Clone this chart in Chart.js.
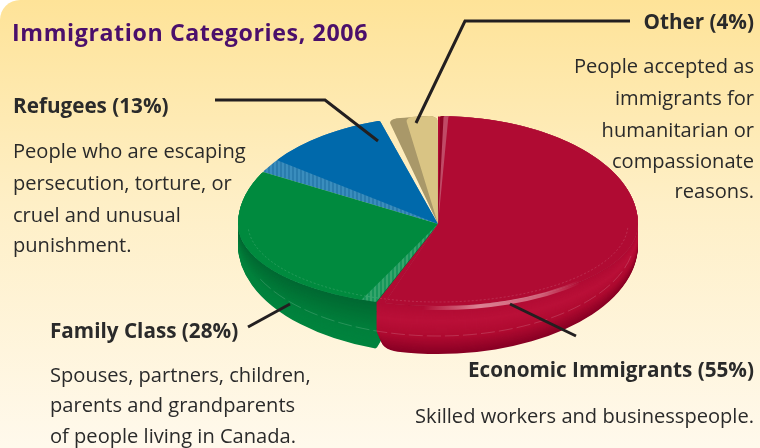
<!DOCTYPE html>
<html>
<head>
<meta charset="utf-8">
<script src="https://cdn.jsdelivr.net/npm/chart.js@4"></script>
<style>
html,body{margin:0;padding:0;background:#fff}
canvas{display:block}
</style>
</head>
<body>
<canvas id="immigration-chart" width="760" height="448"></canvas>
<script>
// Immigration Categories - pie
var chartTitle = "Immigration Categories, 2006";
var categories = ["Economic Immigrants", "Family Class", "Refugees", "Other"];
var shares = [55, 28, 13, 4];
var notesEconomic = ["Skilled workers and businesspeople."];
var notesFamily = ["Spouses, partners, children,", "parents and grandparents", "of people living in Canada."];
var notesRefugees = ["People who are escaping", "persecution, torture, or", "cruel and unusual", "punishment."];
var notesOther = ["People accepted as", "immigrants for", "humanitarian or", "compassionate", "reasons."];

var faceColors = ["#b00b33", "#008a3e", "#0069ab", "#d9c484"];

function stripes(a, b) {
  var c = document.createElement("canvas");
  c.width = 4; c.height = 4;
  var x = c.getContext("2d");
  x.fillStyle = a; x.fillRect(0, 0, 4, 4);
  x.fillStyle = b; x.fillRect(0, 0, 2, 4);
  return x.createPattern(c, "repeat");
}

function lerpColor(stops, t) {
  var n = stops.length - 1, i = Math.min(Math.floor(t * n), n - 1), f = t * n - i;
  var a = stops[i], b = stops[i + 1], out = [];
  for (var k = 0; k < 3; k++) out.push(Math.round(a[k] + (b[k] - a[k]) * f));
  return "rgb(" + out.join(",") + ")";
}
var rims = [
  [[176,11,51],[186,16,56],[174,10,48],[136,0,36]],
  [[0,104,50],[0,116,54],[0,128,60],[0,132,62]]
];

// paint one arc through the element's own draw, flattened to a tilted disc
function paint(chart, arc, color, trimStart, trimEnd, drop, grow, radius) {
  var ctx = chart.ctx, cx = arc.x, cy = arc.y;
  var o = arc.options, s = arc.startAngle, e = arc.endAngle;
  arc.options = Object.assign({}, o, {backgroundColor: color, borderWidth: 0});
  if (radius !== undefined) arc.options.borderRadius = radius;
  arc.startAngle = s + trimStart * Math.PI / 180;
  arc.endAngle = e - trimEnd * Math.PI / 180;
  [[0.54, -1, cy + 0.5], [0.41 + grow, cy, 448]].forEach(function (h) {
    ctx.save();
    ctx.translate(0, drop);
    ctx.beginPath();
    ctx.rect(0, h[1] < 0 ? 0 : h[1], 760, h[1] < 0 ? h[2] : h[2] - h[1]);
    ctx.clip();
    ctx.translate(cx, cy);
    ctx.scale(1, h[0]);
    ctx.translate(-cx, -cy);
    arc.draw(ctx);
    ctx.restore();
  });
  arc.options = o; arc.startAngle = s; arc.endAngle = e;
}

var tiltedPie = {
  id: "tiltedPie",
  beforeDraw: function (chart) {
    var ctx = chart.ctx;
    var g = ctx.createLinearGradient(0, 0, 0, 448);
    g.addColorStop(0, "#fee398");
    g.addColorStop(0.45, "#feefc6");
    g.addColorStop(1, "#fff9ec");
    ctx.save();
    ctx.fillStyle = g;
    ctx.beginPath();
    ctx.roundRect(0, 0, 760, 448, [20, 0, 0, 0]);
    ctx.fill();
    ctx.restore();
  },
  beforeDatasetDraw: function (chart) {
    var arcs = chart.getDatasetMeta(0).data;
    var steps = 46, i, t;
    // rim of the two front slices, back to front
    for (i = steps; i >= 1; i--) {
      t = i / steps;
      paint(chart, arcs[1], lerpColor(rims[1], t), 0, 0, t * 21, t * 0.135);
      paint(chart, arcs[0], lerpColor(rims[0], t), 0, 0, t * 21, t * 0.135,
        {outerStart: 0, outerEnd: t > 0.6 ? (t - 0.6) * 50 : 0, innerStart: 0, innerEnd: 0});
    }
    // cut faces, then the top faces
    paint(chart, arcs[3], "#a99869", 0, 0.2, 0, 0);
    paint(chart, arcs[3], faceColors[3], 5, 0.2, 0, 0);
    paint(chart, arcs[2], stripes("#3a8dbd", "#2a7cae"), 0, 2.5, 0, 0);
    paint(chart, arcs[2], faceColors[2], 7.5, 2.5, 0, 0);
    paint(chart, arcs[1], stripes("#35a56b", "#17965a"), 0, 0, 0, 0);
    paint(chart, arcs[1], faceColors[1], 4.5, 0, 0, 0);
    paint(chart, arcs[0], "#8f0424", 0.6, 2.5, 0, 0);
    paint(chart, arcs[0], "#c04a66", 1.6, 2.5, 0, 0);
    paint(chart, arcs[0], faceColors[0], 3, 2.5, 0, 0);

    var ctx = chart.ctx, a = arcs[0], r = a.outerRadius;
    ctx.save();
    // shine on the red rim
    var g = ctx.createLinearGradient(423, 0, 580, 0);
    g.addColorStop(0, "rgba(255,225,225,0)");
    g.addColorStop(0.35, "rgba(255,225,225,0.55)");
    g.addColorStop(0.75, "rgba(255,225,225,0.4)");
    g.addColorStop(1, "rgba(255,225,225,0)");
    ctx.strokeStyle = g;
    ctx.lineWidth = 4;
    ctx.beginPath();
    ctx.ellipse(a.x, a.y, r * 0.98, r * 0.42, 0, 0.76, 1.65);
    ctx.stroke();
    // faint seams on face and rim
    ctx.lineWidth = 0.7;
    ctx.strokeStyle = "rgba(255,255,255,0.2)";
    ctx.setLineDash([2, 2]);
    ctx.beginPath();
    ctx.ellipse(a.x, a.y, r * 0.95, r * 0.39, 0, 0.05, Math.PI - 0.05);
    ctx.stroke();
    ctx.strokeStyle = "rgba(255,255,255,0.22)";
    ctx.setLineDash([14, 4]);
    ctx.beginPath();
    ctx.ellipse(a.x, a.y + 12, r * 0.985, r * 0.5, 0, 0.2, 2.7);
    ctx.stroke();
    ctx.restore();
    return false;
  },
  afterDraw: function (chart) {
    var ctx = chart.ctx;
    ctx.save();
    // leaders
    ctx.strokeStyle = "#231f20";
    ctx.lineWidth = 3;
    [[[215,100],[325,100],[378,141]],
     [[630,21],[465,21],[416,123]],
     [[248,327],[290,304]],
     [[510,304],[576,336]]].forEach(function (l) {
      ctx.beginPath();
      l.forEach(function (p, i) { i ? ctx.lineTo(p[0], p[1]) : ctx.moveTo(p[0], p[1]); });
      ctx.stroke();
    });
    var sans = '"Open Sans", sans-serif';
    ctx.fillStyle = "#4b0f6b";
    ctx.font = "bold 23.2px " + sans;
    ctx.letterSpacing = "0.6px";
    ctx.fillText(chartTitle, 12, 41);
    ctx.letterSpacing = "0px";

    function block(idx, notes, x, align, headY, ys) {
      ctx.textAlign = align;
      ctx.fillStyle = "#2a2a2a";
      ctx.font = "bold 20.7px " + sans;
      ctx.fillText(categories[idx] + " (" + shares[idx] + "%)", x, headY);
      ctx.font = "20.1px " + sans;
      notes.forEach(function (n, i) { ctx.fillText(n, x, ys[i]); });
    }
    block(2, notesRefugees, 13, "left", 113, [158, 190, 222, 252]);
    block(1, notesFamily, 50, "left", 338, [382, 412, 443]);
    block(0, notesEconomic, 754, "right", 377, [423]);
    block(3, notesOther, 754, "right", 29, [73, 105, 137, 168, 198]);
    ctx.restore();
  }
};

new Chart(document.getElementById("immigration-chart"), {
  type: "pie",
  data: {
    labels: categories,
    datasets: [{
      data: shares,
      backgroundColor: faceColors,
      borderWidth: 0,
      borderRadius: [2, 2, 2, 8]
    }]
  },
  options: {
    responsive: false,
    animation: false,
    radius: 200,
    layout: { padding: { left: 116 } },
    plugins: { legend: { display: false }, tooltip: { enabled: false } }
  },
  plugins: [tiltedPie]
});
</script>
</body>
</html>
